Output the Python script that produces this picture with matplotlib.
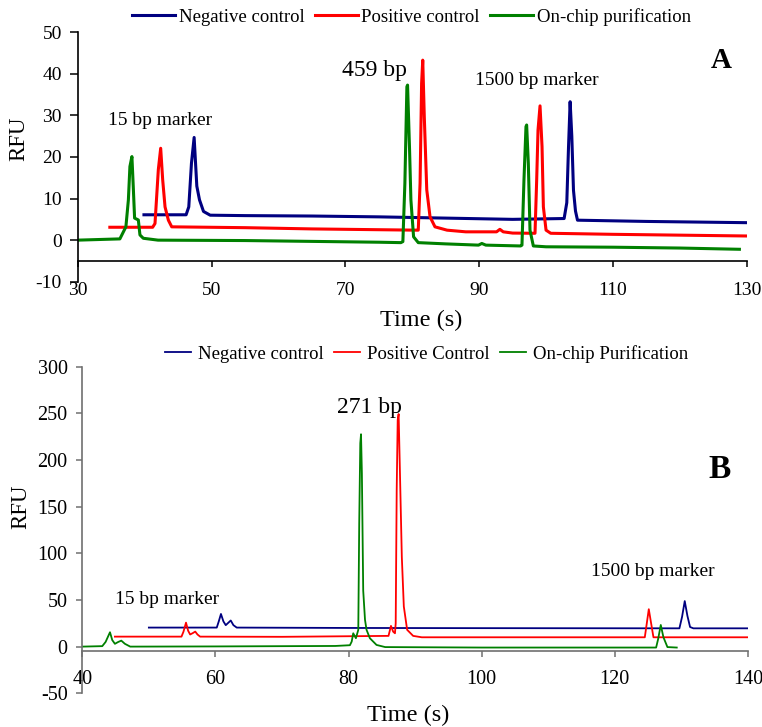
import matplotlib
matplotlib.use("Agg")
import matplotlib.pyplot as plt

plt.rcParams['font.family'] = ['Liberation Serif', 'DejaVu Serif']
plt.rcParams['axes.unicode_minus'] = False

# ---------------- Panel A: 459 bp product ----------------
a_neg_t = [39.9, 46.2, 46.6, 47.0, 47.4, 47.8, 48.2, 48.8, 49.8, 55, 65, 75, 85, 95,
           102.7, 103.1, 103.35, 103.6, 103.85, 104.1, 104.4, 104.7, 115, 130]
a_neg_y = [6.1, 6.1, 8.0, 18.5, 24.7, 13.0, 9.7, 6.9, 6.0, 5.9, 5.8, 5.6, 5.3, 5.0,
           5.2, 9.0, 22.0, 33.3, 25.0, 12.0, 7.0, 4.8, 4.5, 4.2]

a_pos_t = [34.8, 41.2, 41.55, 42.05, 42.4, 42.7, 43.05, 43.55, 44.05, 55, 65, 80.7,
           80.9, 81.17, 81.4, 81.57, 81.8, 82.17, 82.66, 83.4, 85.2, 88, 92.6, 93.1, 93.6,
           95, 98.35, 98.6, 98.8, 99.1, 99.4, 99.6, 100.0, 100.7, 110, 120, 130]
a_pos_y = [3.1, 3.1, 4.0, 17.0, 22.1, 14.5, 8.0, 4.8, 3.2, 3.0, 2.7, 2.4,
           2.4, 13.7, 37.7, 43.3, 29.7, 12.1, 5.6, 3.2, 2.4, 2.0, 2.0, 2.6, 2.0,
           1.7, 1.65, 14.5, 26.5, 32.3, 22.5, 8.0, 2.4, 1.65, 1.4, 1.2, 1.0]

a_chip_t = [30, 36.3, 37.2, 37.57, 37.8, 38.1, 38.3, 38.5, 39.06, 39.3, 39.8, 42, 55,
            65, 75, 78.3, 78.6, 78.9, 79.2, 79.3, 79.6, 79.8, 80.2, 80.9, 85, 89.9, 90.4,
            91.0, 96.2, 96.4, 96.7, 97.0, 97.1, 97.35, 97.6, 98.1, 100, 110, 120, 128.9]
a_chip_y = [0.0, 0.3, 3.2, 9.65, 17.7, 20.1, 12.9, 5.3, 4.85, 1.25, 0.45, 0.0, -0.1,
            -0.3, -0.5, -0.6, -0.35, 13.7, 36.9, 37.3, 21.7, 9.65, 0.8, -0.6, -0.9, -1.2, -0.8,
            -1.2, -1.4, -1.2, 14.5, 27.3, 27.7, 18.5, 2.4, -1.4, -1.6, -1.7, -1.9, -2.2]

a_labels = ["Negative control", "Positive control", "On-chip purification"]

# ---------------- Panel B: 271 bp product ----------------
b_neg_t = [50, 60.2, 60.5, 60.83, 61.2, 61.55, 62.0, 62.3, 62.7, 63.2, 80, 100,
           129.7, 130.1, 130.5, 130.9, 131.3, 131.8, 140]
b_neg_y = [20.4, 20.4, 27.0, 35.0, 27.0, 23.0, 26.0, 28.0, 23.0, 20.4, 20.0, 19.8,
           19.6, 32.0, 48.8, 33.0, 21.0, 19.6, 19.6]

b_pos_t = [44.9, 54.9, 55.2, 55.58, 55.9, 56.2, 56.6, 56.97, 57.3, 57.7, 70, 86.0,
           86.37, 86.7, 86.97, 87.08, 87.23, 87.38, 87.52, 87.72, 88.0, 88.3, 88.8, 89.7,
           91, 124.5, 124.8, 125.1, 125.45, 125.8, 140]
b_pos_y = [10.7, 10.7, 16.0, 25.7, 17.0, 13.0, 14.5, 16.1, 13.0, 10.7, 10.5, 11.5,
           22.2, 16.0, 14.3, 25.0, 168.0, 243.0, 249.3, 185.8, 96.0, 43.0, 18.0, 11.5,
           10.0, 10.0, 25.0, 40.1, 25.0, 10.0, 10.0]

b_chip_t = [40, 43.0, 43.5, 44.16, 44.5, 44.9, 45.4, 45.86, 46.4, 47.2, 60, 78, 80.2,
            80.47, 80.7, 81.1, 81.46, 81.6, 81.76, 81.87, 82.0, 82.2, 82.47, 82.7, 83.2,
            84.2, 85.5, 100, 126.2, 126.5, 126.9, 127.3, 127.9, 129.3]
b_chip_y = [0.0, 0.5, 5.0, 15.4, 7.0, 3.0, 5.0, 6.4, 3.0, 0.0, 0.2, 0.7, 1.5,
            5.4, 14.3, 9.0, 18.0, 132.0, 218.0, 227.6, 185.8, 60.0, 28.6, 18.0, 9.0,
            1.8, -0.5, -1.0, -1.0, 8.0, 23.2, 10.0, -0.5, -1.0]

b_labels = ["Negative control", "Positive Control", "On-chip Purification"]

NAVY, RED, GREEN = "#000080", "#FF0000", "#008000"

fig = plt.figure(figsize=(7.62, 7.27), dpi=100)
axA = fig.add_axes([0.102, 0.6125, 0.878, 0.3431])
axB = fig.add_axes([0.108, 0.0464, 0.8736, 0.4492])


def style_axes(ax, xlim, ylim, xticks, yticks, spine_color, ytick_len, ytick_pad,
               xtick_pad, fs):
    ax.set_xlim(*xlim)
    ax.set_ylim(*ylim)
    ax.set_xticks(xticks)
    ax.set_yticks(yticks)
    for s in ("top", "right"):
        ax.spines[s].set_visible(False)
    ax.spines["bottom"].set_position(("data", -5))
    for s in ("left", "bottom"):
        ax.spines[s].set_color(spine_color)
        ax.spines[s].set_linewidth(1.2)
    ax.tick_params(axis="y", direction="out", length=ytick_len, width=1.1,
                   color=spine_color, pad=ytick_pad, labelsize=fs)
    ax.tick_params(axis="x", direction="out", length=4.3, width=1.1,
                   color=spine_color, pad=xtick_pad, labelsize=fs)


# Panel A
lwA = 2.2
axA.plot(a_neg_t, a_neg_y, color=NAVY, lw=lwA, label=a_labels[0])
axA.plot(a_pos_t, a_pos_y, color=RED, lw=lwA, label=a_labels[1])
axA.plot(a_chip_t, a_chip_y, color=GREEN, lw=lwA, label=a_labels[2])
style_axes(axA, (30, 130), (-10, 50), range(30, 131, 20), range(-10, 51, 10),
           "black", 5.5, 6.0, 11.0, 14)
axA.set_xlabel("Time (s)", fontsize=17.5)
axA.xaxis.set_label_coords(0.514, -0.112)
axA.set_ylabel("RFU", fontsize=16.5)
axA.yaxis.label.set_va("center")
axA.yaxis.set_label_coords(-0.088, 0.575)
axA.text(42.3, 28.7, "15 bp marker", fontsize=14, ha="center", va="center")
axA.text(74.3, 40.9, "459 bp", fontsize=17, ha="center", va="center")
axA.text(98.65, 38.5, "1500 bp marker", fontsize=14, ha="center", va="center")
axA.text(126.2, 43.1, "A", fontsize=21, fontweight="bold", ha="center", va="center")
axA.legend(loc="center", bbox_to_anchor=(0.540, 0.9766), bbox_transform=fig.transFigure,
           ncol=3, frameon=False, fontsize=13.5, handlelength=2.3, handletextpad=0.2,
           columnspacing=0.55, borderpad=0, borderaxespad=0)

# Panel B
lwB = 1.3
axB.plot(b_neg_t, b_neg_y, color=NAVY, lw=lwB, label=b_labels[0])
axB.plot(b_pos_t, b_pos_y, color=RED, lw=lwB, label=b_labels[1])
axB.plot(b_chip_t, b_chip_y, color=GREEN, lw=lwB, label=b_labels[2])
style_axes(axB, (40, 140), (-50, 300), range(40, 141, 20), range(-50, 301, 50),
           "#707070", 4.0, 6.5, 9.5, 14.5)
axB.set_xlabel("Time (s)", fontsize=17.5)
axB.xaxis.set_label_coords(0.489, -0.036)
axB.set_ylabel("RFU", fontsize=16.5)
axB.yaxis.label.set_va("center")
axB.yaxis.set_label_coords(-0.093, 0.571)
axB.text(83.07, 256.8, "271 bp", fontsize=17, ha="center", va="center")
axB.text(125.7, 80.0, "1500 bp marker", fontsize=14, ha="center", va="center")
axB.text(52.7, 50.0, "15 bp marker", fontsize=14, ha="center", va="center")
axB.text(135.8, 189.3, "B", fontsize=24, fontweight="bold", ha="center", va="center")
axB.legend(loc="center", bbox_to_anchor=(0.5597, 0.5131), bbox_transform=fig.transFigure,
           ncol=3, frameon=False, fontsize=13.5, handlelength=1.4, handletextpad=0.35,
           columnspacing=0.55, borderpad=0, borderaxespad=0)

fig.savefig("out.png", dpi=100)
